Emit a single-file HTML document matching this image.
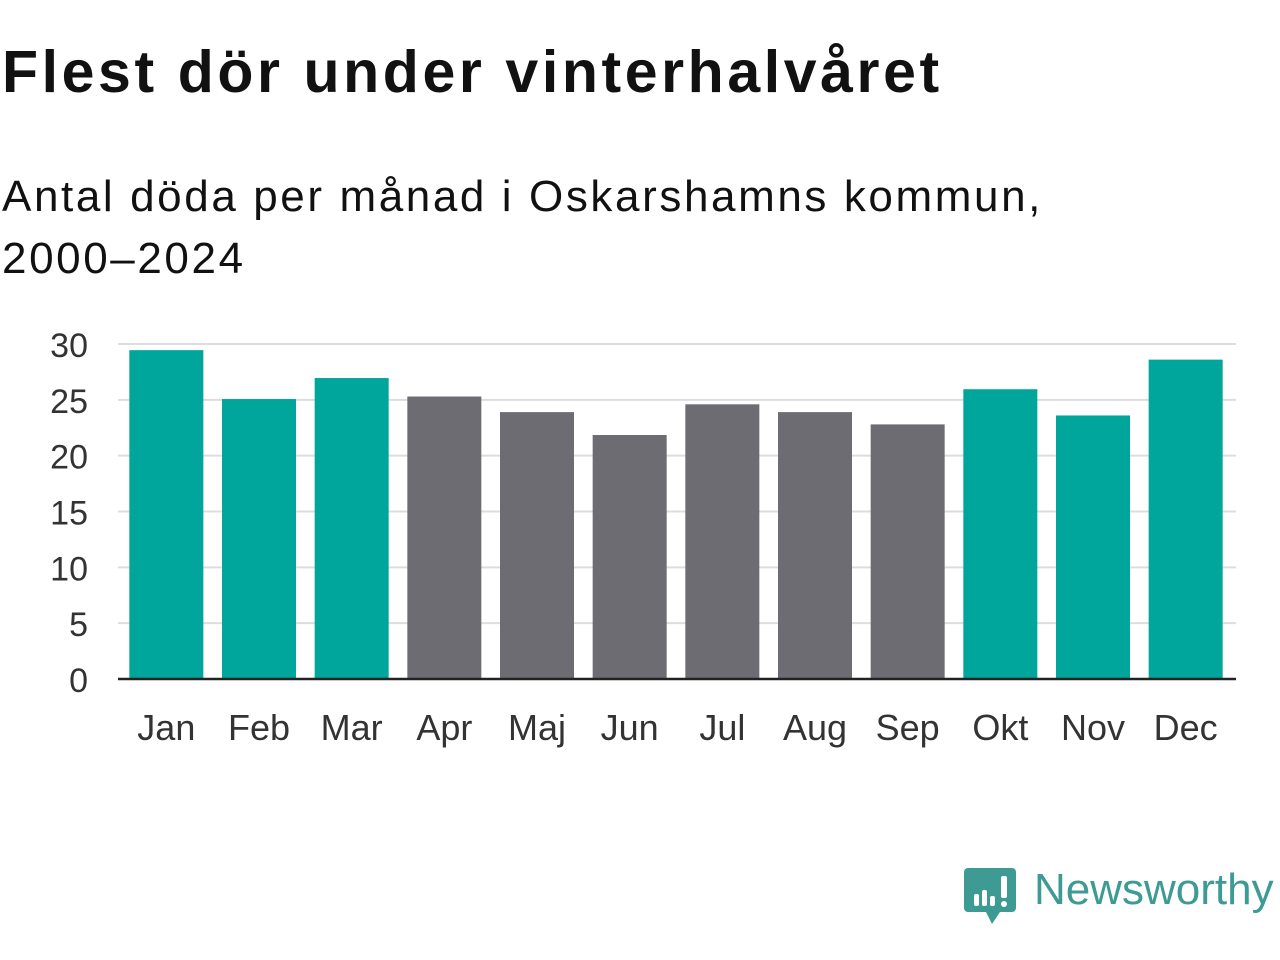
<!DOCTYPE html>
<html><head><meta charset="utf-8"><style>
body{margin:0;width:1280px;height:960px;background:#fff;font-family:"Liberation Sans","DejaVu Sans",sans-serif;overflow:hidden;position:relative}
#title{position:absolute;left:2px;top:38px;font-size:59px;font-weight:bold;color:#111;letter-spacing:3.6px}
#sub{position:absolute;left:2px;top:166px;font-size:44px;line-height:62px;color:#111;letter-spacing:2.6px}
#logo{position:absolute;left:964px;top:864px}
</style></head><body>
<div id="title">Flest dör under vinterhalvåret</div>
<div id="sub">Antal döda per månad i Oskarshamns kommun,<br>2000–2024</div>
<svg id="chart" width="1280" height="800" style="position:absolute;left:0;top:0"></svg>
<svg id="logo" width="316" height="66">
<path d="M4 4h44a4 4 0 0 1 4 4v36a4 4 0 0 1-4 4H36l-8 12l-6-12H4a4 4 0 0 1-4-4V8a4 4 0 0 1 4-4z" fill="#3d9b93"/>
<rect x="10" y="30" width="5" height="12" rx="2" fill="#fff"/><rect x="18" y="26" width="5" height="16" rx="2" fill="#fff"/><rect x="26" y="32" width="5" height="10" rx="2" fill="#fff"/><rect x="37" y="12" width="6" height="22" rx="2" fill="#fff"/><circle cx="40" cy="40" r="3" fill="#fff"/>
<text x="70" y="40" font-size="44" font-family="Liberation Sans, sans-serif" fill="#3d9b93">Newsworthy</text>
</svg>
<script>
const categories=["Jan","Feb","Mar","Apr","Maj","Jun","Jul","Aug","Sep","Okt","Nov","Dec"];
const values=[29.45,25.07,26.95,25.3,23.9,21.85,24.6,23.9,22.8,25.95,23.6,28.6];
const winter=[true,true,true,false,false,false,false,false,false,true,true,true];
const ticks=[0,5,10,15,20,25,30];
const svg=document.getElementById('chart');const NS="http://www.w3.org/2000/svg";
const x0=120,x1=1232,axL=118,axR=1236,y0=679,y30=344;
const y=v=>y0-(v/30)*(y0-y30);
const band=(x1-x0)/12;const bw=74;
const xc=i=>x0+band*(i+0.5);
function mk(t,a){const e=document.createElementNS(NS,t);for(const k in a)e.setAttribute(k,a[k]);svg.appendChild(e);return e;}
ticks.forEach(t=>{
 const l=mk('line',{x1:axL,x2:axR,y1:y(t),y2:y(t),stroke:'#ddd','stroke-width':2});
 
 
 const tx=mk('text',{x:88,y:y(t)+13,'text-anchor':'end','font-size':34,fill:'#333','font-family':'Liberation Sans, sans-serif'});
 tx.textContent=t;
 
 
});
values.forEach((v,i)=>{
 const r=mk('rect',{x:xc(i)-bw/2,y:y(v),width:bw,height:y0-y(v),fill:winter[i]?'#00a59b':'#6d6c73'});
 
 
 const tx=mk('text',{x:xc(i),y:740,'text-anchor':'middle','font-size':36,fill:'#333','font-family':'Liberation Sans, sans-serif'});
 tx.textContent=categories[i];
 
 
});
const ax=mk('line',{x1:axL,x2:axR,y1:y0,y2:y0,stroke:'#222','stroke-width':2.5});


</script>
</body></html>
